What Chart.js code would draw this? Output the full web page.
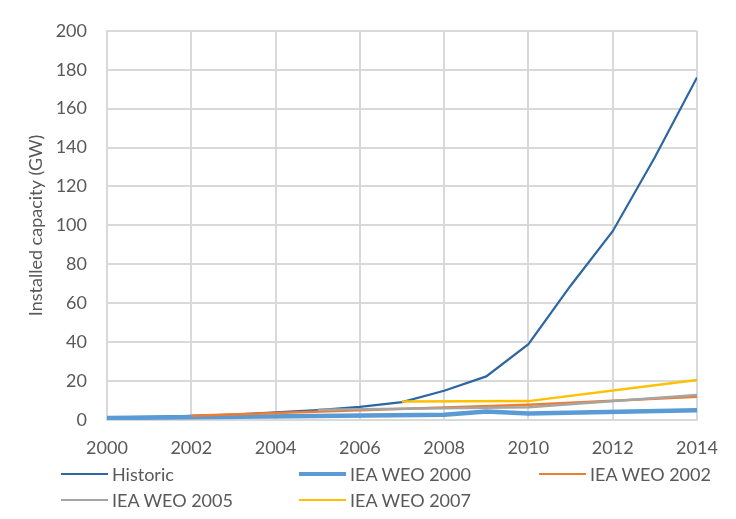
<!DOCTYPE html>
<html>
<head>
<meta charset="utf-8">
<script src="https://cdn.jsdelivr.net/npm/chart.js@4.4.1/dist/chart.umd.min.js"></script>
<style>
  html, body { margin: 0; padding: 0; background: #fff; }
  #wrap { position: relative; width: 736px; height: 519px; }
  #legend { position: absolute; left: 0; top: 0; width: 736px; height: 519px; pointer-events: none;
    font-family: Lato, "Open Sans", sans-serif; font-size: 18px; color: #595959; }
  .item { position: absolute; display: flex; align-items: center; white-space: nowrap; }
  .swatch { width: 47px; margin-right: 4px; }
</style>
</head>
<body>
<div id="wrap">
  <canvas id="chart" width="736" height="519"></canvas>
  <div id="legend"></div>
</div>
<script>
// Years on the x axis
const years = [2000, 2001, 2002, 2003, 2004, 2005, 2006, 2007, 2008, 2009, 2010, 2011, 2012, 2013, 2014];

// Installed capacity (GW), null = no value that year
const historic = [1.3, 1.6, 2.1, 2.8, 3.9, 5.1, 6.7, 9.2, 15, 22.4, 39, 69, 97, 135, 176];
const weo2000 = [1.0, null, null, null, null, null, null, null, 2.7, 4.4, 3.4, null, null, null, 5.0];
const weo2002 = [null, null, 2.2, null, null, null, null, null, null, null, 7.8, null, null, null, 12.0];
const weo2005 = [null, null, null, null, null, 5.3, null, null, null, null, 6.6, null, null, null, 12.8];
const weo2007 = [null, null, null, null, null, null, null, 9.5, null, null, 9.7, null, null, null, 20.5];

const seriesNames = ['Historic', 'IEA WEO 2000', 'IEA WEO 2002', 'IEA WEO 2005', 'IEA WEO 2007'];
const seriesColors = ['#2e66a1', '#5b9bd5', '#ed7d31', '#a5a5a5', '#ffc000'];
const seriesWidths = [2.2, 4.5, 2.5, 2.5, 2.5];
const seriesData = [historic, weo2000, weo2002, weo2005, weo2007];

const textColor = '#595959';
const gridColor = '#d9d9d9';
const font = { family: 'Lato, "Open Sans", sans-serif', size: 18 };

const toPoints = arr => years.map((yr, i) => ({ x: yr, y: arr[i] }));

new Chart(document.getElementById('chart').getContext('2d'), {
  type: 'line',
  data: {
    datasets: seriesData.map((arr, i) => ({
      label: seriesNames[i],
      data: toPoints(arr),
      borderColor: seriesColors[i],
      backgroundColor: seriesColors[i],
      borderWidth: seriesWidths[i],
      pointRadius: 0,
      tension: 0,
      spanGaps: true,
      order: seriesData.length - 1 - i
    }))
  },
  options: {
    responsive: false,
    animation: false,
    layout: { padding: { top: 25, right: 39, bottom: 59, left: 0 } },
    plugins: { legend: { display: false }, tooltip: { enabled: false } },
    scales: {
      x: {
        type: 'linear',
        min: 2000,
        max: 2014,
        ticks: { stepSize: 2, color: textColor, font: font, padding: 17, callback: v => String(v) },
        grid: { color: gridColor, lineWidth: 2, drawTicks: false },
        border: { color: gridColor, width: 2 },
        afterFit: s => { s.height = 40; }
      },
      y: {
        min: 0,
        max: 200,
        ticks: { stepSize: 20, color: textColor, font: font, padding: 20 },
        grid: { color: gridColor, lineWidth: 2, drawTicks: false },
        border: { color: gridColor, width: 2 },
        title: { display: true, text: 'Installed capacity (GW)', color: textColor, font: font, padding: { top: 25, bottom: 0 } },
        afterFit: s => { s.width = 107; }
      }
    }
  }
});

// Legend laid out in three columns like the original
const legendPos = [[61, 474], [299, 474], [539, 474], [61, 500], [299, 500]];
const legend = document.getElementById('legend');
seriesNames.forEach((name, i) => {
  const item = document.createElement('div');
  item.className = 'item';
  item.style.left = legendPos[i][0] + 'px';
  item.style.top = (legendPos[i][1] - 11) + 'px';
  item.style.height = '22px';
  const sw = document.createElement('span');
  sw.className = 'swatch';
  sw.style.borderTop = seriesWidths[i] + 'px solid ' + seriesColors[i];
  const label = document.createElement('span');
  label.textContent = name;
  item.appendChild(sw);
  item.appendChild(label);
  legend.appendChild(item);
});
</script>
</body>
</html>
